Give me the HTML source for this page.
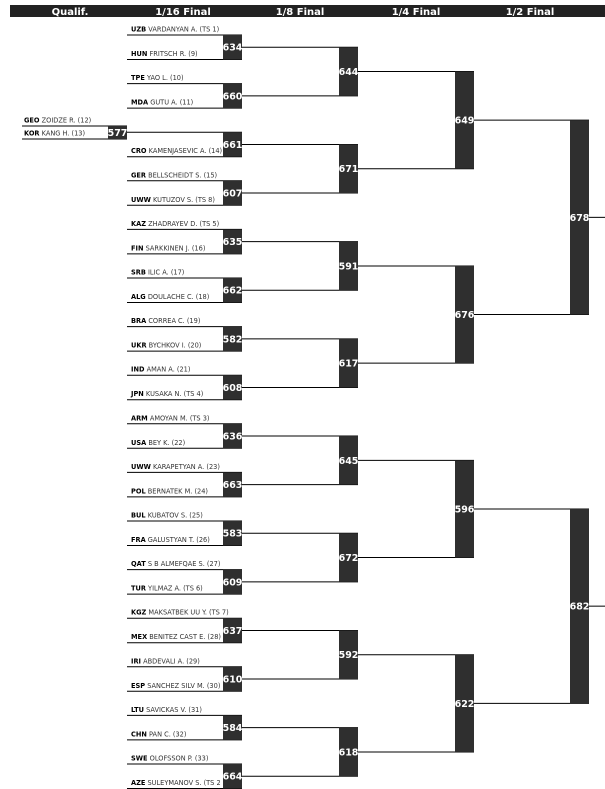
<!DOCTYPE html>
<html><head><meta charset="utf-8"><style>
html,body{margin:0;padding:0;background:#fff;}
svg{display:block;font-family:"DejaVu Sans","Liberation Sans",sans-serif;}
.c{font-weight:bold;fill:#000;}
.n{fill:#333;}
.t{font-size:6.6px;}
.b{fill:#2f2f2f;}
.bn{font-size:9.5px;font-weight:bold;fill:#fff;text-anchor:middle;}
.h{font-size:10px;font-weight:bold;fill:#fff;text-anchor:middle;}
line{stroke:#000;stroke-width:1;}
</style></head><body>
<svg width="605" height="789" viewBox="0 0 605 789" xmlns="http://www.w3.org/2000/svg">
<rect x="10" y="5" width="595" height="12" fill="#222"/>
<text class="h" x="70" y="15">Qualif.</text>
<text class="h" x="183" y="15">1/16 Final</text>
<text class="h" x="300" y="15">1/8 Final</text>
<text class="h" x="416" y="15">1/4 Final</text>
<text class="h" x="530" y="15">1/2 Final</text>

<!-- qualif -->
<line x1="22" y1="126" x2="127" y2="126"/>
<line x1="22" y1="139" x2="127" y2="139"/>
<text class="t" x="24" y="122.5"><tspan class="c">GEO</tspan> <tspan class="n">ZOIDZE R. (12)</tspan></text>
<text class="t" x="24" y="135.5"><tspan class="c">KOR</tspan> <tspan class="n">KANG H. (13)</tspan></text>
<rect class="b" x="108" y="126" width="19" height="13"/>
<text class="bn" x="117.5" y="136">577</text>

<!-- 1/16 lines -->
<g>
<line x1="127" y1="35" x2="242" y2="35"/><line x1="127" y1="59.5" x2="242" y2="59.5"/>
<line x1="127" y1="83.6" x2="242" y2="83.6"/><line x1="127" y1="108.1" x2="242" y2="108.1"/>
<line x1="127" y1="132.2" x2="242" y2="132.2"/><line x1="127" y1="156.7" x2="242" y2="156.7"/>
<line x1="127" y1="180.8" x2="242" y2="180.8"/><line x1="127" y1="205.3" x2="242" y2="205.3"/>
<line x1="127" y1="229.4" x2="242" y2="229.4"/><line x1="127" y1="253.9" x2="242" y2="253.9"/>
<line x1="127" y1="278" x2="242" y2="278"/><line x1="127" y1="302.5" x2="242" y2="302.5"/>
<line x1="127" y1="326.6" x2="242" y2="326.6"/><line x1="127" y1="351.1" x2="242" y2="351.1"/>
<line x1="127" y1="375.2" x2="242" y2="375.2"/><line x1="127" y1="399.7" x2="242" y2="399.7"/>
<line x1="127" y1="423.8" x2="242" y2="423.8"/><line x1="127" y1="448.3" x2="242" y2="448.3"/>
<line x1="127" y1="472.4" x2="242" y2="472.4"/><line x1="127" y1="496.9" x2="242" y2="496.9"/>
<line x1="127" y1="521" x2="242" y2="521"/><line x1="127" y1="545.5" x2="242" y2="545.5"/>
<line x1="127" y1="569.6" x2="242" y2="569.6"/><line x1="127" y1="594.1" x2="242" y2="594.1"/>
<line x1="127" y1="618.2" x2="242" y2="618.2"/><line x1="127" y1="642.7" x2="242" y2="642.7"/>
<line x1="127" y1="666.8" x2="242" y2="666.8"/><line x1="127" y1="691.3" x2="242" y2="691.3"/>
<line x1="127" y1="715.4" x2="242" y2="715.4"/><line x1="127" y1="739.9" x2="242" y2="739.9"/>
<line x1="127" y1="764" x2="242" y2="764"/><line x1="127" y1="788.5" x2="242" y2="788.5"/>
</g>

<!-- names -->
<g class="t">
<text x="131" y="31.5"><tspan class="c">UZB</tspan> <tspan class="n">VARDANYAN A. (TS 1)</tspan></text>
<text x="131" y="56"><tspan class="c">HUN</tspan> <tspan class="n">FRITSCH R. (9)</tspan></text>
<text x="131" y="80.1"><tspan class="c">TPE</tspan> <tspan class="n">YAO L. (10)</tspan></text>
<text x="131" y="104.6"><tspan class="c">MDA</tspan> <tspan class="n">GUTU A. (11)</tspan></text>
<text x="131" y="153.2"><tspan class="c">CRO</tspan> <tspan class="n">KAMENJASEVIC A. (14)</tspan></text>
<text x="131" y="177.3"><tspan class="c">GER</tspan> <tspan class="n">BELLSCHEIDT S. (15)</tspan></text>
<text x="131" y="201.8"><tspan class="c">UWW</tspan> <tspan class="n">KUTUZOV S. (TS 8)</tspan></text>
<text x="131" y="225.9"><tspan class="c">KAZ</tspan> <tspan class="n">ZHADRAYEV D. (TS 5)</tspan></text>
<text x="131" y="250.4"><tspan class="c">FIN</tspan> <tspan class="n">SARKKINEN J. (16)</tspan></text>
<text x="131" y="274.5"><tspan class="c">SRB</tspan> <tspan class="n">ILIC A. (17)</tspan></text>
<text x="131" y="299"><tspan class="c">ALG</tspan> <tspan class="n">DOULACHE C. (18)</tspan></text>
<text x="131" y="323.1"><tspan class="c">BRA</tspan> <tspan class="n">CORREA C. (19)</tspan></text>
<text x="131" y="347.6"><tspan class="c">UKR</tspan> <tspan class="n">BYCHKOV I. (20)</tspan></text>
<text x="131" y="371.7"><tspan class="c">IND</tspan> <tspan class="n">AMAN A. (21)</tspan></text>
<text x="131" y="396.2"><tspan class="c">JPN</tspan> <tspan class="n">KUSAKA N. (TS 4)</tspan></text>
<text x="131" y="420.3"><tspan class="c">ARM</tspan> <tspan class="n">AMOYAN M. (TS 3)</tspan></text>
<text x="131" y="444.8"><tspan class="c">USA</tspan> <tspan class="n">BEY K. (22)</tspan></text>
<text x="131" y="468.9"><tspan class="c">UWW</tspan> <tspan class="n">KARAPETYAN A. (23)</tspan></text>
<text x="131" y="493.4"><tspan class="c">POL</tspan> <tspan class="n">BERNATEK M. (24)</tspan></text>
<text x="131" y="517.5"><tspan class="c">BUL</tspan> <tspan class="n">KUBATOV S. (25)</tspan></text>
<text x="131" y="542"><tspan class="c">FRA</tspan> <tspan class="n">GALUSTYAN T. (26)</tspan></text>
<text x="131" y="566.1"><tspan class="c">QAT</tspan> <tspan class="n">S B ALMEFQAE S. (27)</tspan></text>
<text x="131" y="590.6"><tspan class="c">TUR</tspan> <tspan class="n">YILMAZ A. (TS 6)</tspan></text>
<text x="131" y="614.7"><tspan class="c">KGZ</tspan> <tspan class="n">MAKSATBEK UU Y. (TS 7)</tspan></text>
<text x="131" y="639.2"><tspan class="c">MEX</tspan> <tspan class="n">BENITEZ CAST E. (28)</tspan></text>
<text x="131" y="663.3"><tspan class="c">IRI</tspan> <tspan class="n">ABDEVALI A. (29)</tspan></text>
<text x="131" y="687.8"><tspan class="c">ESP</tspan> <tspan class="n">SANCHEZ SILV M. (30)</tspan></text>
<text x="131" y="711.9"><tspan class="c">LTU</tspan> <tspan class="n">SAVICKAS V. (31)</tspan></text>
<text x="131" y="736.4"><tspan class="c">CHN</tspan> <tspan class="n">PAN C. (32)</tspan></text>
<text x="131" y="760.5"><tspan class="c">SWE</tspan> <tspan class="n">OLOFSSON P. (33)</tspan></text>
<text x="131" y="785"><tspan class="c">AZE</tspan> <tspan class="n">SULEYMANOV S. (TS 2</tspan></text>
</g>

<!-- connectors 1/16 -> 1/8 -->
<g>
<line x1="242" y1="47.25" x2="358" y2="47.25"/><line x1="242" y1="95.85" x2="358" y2="95.85"/>
<line x1="242" y1="144.45" x2="358" y2="144.45"/><line x1="242" y1="193.05" x2="358" y2="193.05"/>
<line x1="242" y1="241.65" x2="358" y2="241.65"/><line x1="242" y1="290.25" x2="358" y2="290.25"/>
<line x1="242" y1="338.85" x2="358" y2="338.85"/><line x1="242" y1="387.45" x2="358" y2="387.45"/>
<line x1="242" y1="436.05" x2="358" y2="436.05"/><line x1="242" y1="484.65" x2="358" y2="484.65"/>
<line x1="242" y1="533.25" x2="358" y2="533.25"/><line x1="242" y1="581.85" x2="358" y2="581.85"/>
<line x1="242" y1="630.45" x2="358" y2="630.45"/><line x1="242" y1="679.05" x2="358" y2="679.05"/>
<line x1="242" y1="727.65" x2="358" y2="727.65"/><line x1="242" y1="776.25" x2="358" y2="776.25"/>
<!-- 1/8 -> 1/4 -->
<line x1="358" y1="71.55" x2="474" y2="71.55"/><line x1="358" y1="168.75" x2="474" y2="168.75"/>
<line x1="358" y1="265.95" x2="474" y2="265.95"/><line x1="358" y1="363.15" x2="474" y2="363.15"/>
<line x1="358" y1="460.35" x2="474" y2="460.35"/><line x1="358" y1="557.55" x2="474" y2="557.55"/>
<line x1="358" y1="654.75" x2="474" y2="654.75"/><line x1="358" y1="751.95" x2="474" y2="751.95"/>
<!-- 1/4 -> 1/2 -->
<line x1="474" y1="120.15" x2="589" y2="120.15"/><line x1="474" y1="314.55" x2="589" y2="314.55"/>
<line x1="474" y1="508.95" x2="589" y2="508.95"/><line x1="474" y1="703.35" x2="589" y2="703.35"/>
<!-- final out -->
<line x1="589" y1="217.35" x2="605" y2="217.35"/><line x1="589" y1="606.15" x2="605" y2="606.15"/>
</g>

<!-- 1/16 boxes -->
<g>
<rect class="b" x="223" y="35" width="19" height="24.5"/><text class="bn" x="232.5" y="50.7">634</text>
<rect class="b" x="223" y="83.6" width="19" height="24.5"/><text class="bn" x="232.5" y="99.3">660</text>
<rect class="b" x="223" y="132.2" width="19" height="24.5"/><text class="bn" x="232.5" y="147.9">661</text>
<rect class="b" x="223" y="180.8" width="19" height="24.5"/><text class="bn" x="232.5" y="196.5">607</text>
<rect class="b" x="223" y="229.4" width="19" height="24.5"/><text class="bn" x="232.5" y="245.1">635</text>
<rect class="b" x="223" y="278" width="19" height="24.5"/><text class="bn" x="232.5" y="293.7">662</text>
<rect class="b" x="223" y="326.6" width="19" height="24.5"/><text class="bn" x="232.5" y="342.3">582</text>
<rect class="b" x="223" y="375.2" width="19" height="24.5"/><text class="bn" x="232.5" y="390.9">608</text>
<rect class="b" x="223" y="423.8" width="19" height="24.5"/><text class="bn" x="232.5" y="439.5">636</text>
<rect class="b" x="223" y="472.4" width="19" height="24.5"/><text class="bn" x="232.5" y="488.1">663</text>
<rect class="b" x="223" y="521" width="19" height="24.5"/><text class="bn" x="232.5" y="536.7">583</text>
<rect class="b" x="223" y="569.6" width="19" height="24.5"/><text class="bn" x="232.5" y="585.3">609</text>
<rect class="b" x="223" y="618.2" width="19" height="24.5"/><text class="bn" x="232.5" y="633.9">637</text>
<rect class="b" x="223" y="666.8" width="19" height="24.5"/><text class="bn" x="232.5" y="682.5">610</text>
<rect class="b" x="223" y="715.4" width="19" height="24.5"/><text class="bn" x="232.5" y="731.1">584</text>
<rect class="b" x="223" y="764" width="19" height="24.5"/><text class="bn" x="232.5" y="779.7">664</text>
</g>
<!-- 1/8 boxes -->
<g>
<rect class="b" x="339" y="47.25" width="19" height="48.6"/><text class="bn" x="348.5" y="75">644</text>
<rect class="b" x="339" y="144.45" width="19" height="48.6"/><text class="bn" x="348.5" y="172.2">671</text>
<rect class="b" x="339" y="241.65" width="19" height="48.6"/><text class="bn" x="348.5" y="269.4">591</text>
<rect class="b" x="339" y="338.85" width="19" height="48.6"/><text class="bn" x="348.5" y="366.6">617</text>
<rect class="b" x="339" y="436.05" width="19" height="48.6"/><text class="bn" x="348.5" y="463.8">645</text>
<rect class="b" x="339" y="533.25" width="19" height="48.6"/><text class="bn" x="348.5" y="561">672</text>
<rect class="b" x="339" y="630.45" width="19" height="48.6"/><text class="bn" x="348.5" y="658.2">592</text>
<rect class="b" x="339" y="727.65" width="19" height="48.6"/><text class="bn" x="348.5" y="755.4">618</text>
</g>
<!-- 1/4 boxes -->
<g>
<rect class="b" x="455" y="71.55" width="19" height="97.2"/><text class="bn" x="464.5" y="123.6">649</text>
<rect class="b" x="455" y="265.95" width="19" height="97.2"/><text class="bn" x="464.5" y="318">676</text>
<rect class="b" x="455" y="460.35" width="19" height="97.2"/><text class="bn" x="464.5" y="512.4">596</text>
<rect class="b" x="455" y="654.75" width="19" height="97.2"/><text class="bn" x="464.5" y="706.8">622</text>
</g>
<!-- 1/2 boxes -->
<g>
<rect class="b" x="570" y="120.15" width="19" height="194.4"/><text class="bn" x="579.5" y="220.8">678</text>
<rect class="b" x="570" y="508.95" width="19" height="194.4"/><text class="bn" x="579.5" y="609.6">682</text>
</g>
</svg>
</body></html>
